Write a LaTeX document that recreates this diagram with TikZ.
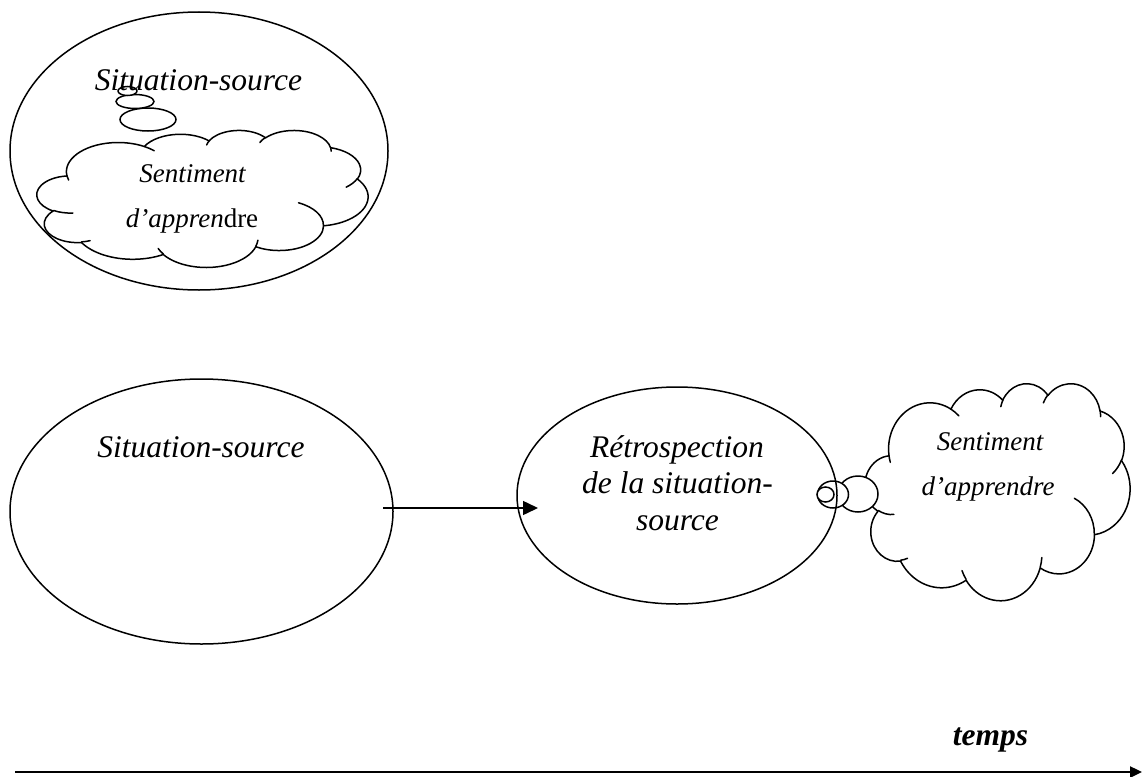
\documentclass[tikz,border=0pt]{standalone}
\usepackage{fontspec}
\setmainfont{Liberation Serif}
\usetikzlibrary{arrows.meta,shapes.geometric}

% Word cloud outline (OOXML preset, path units 0..432), geometric angles
\def\cloudouter{67.53/91.90/-190.487/123.781,
 53.33/72.67/-144.102/89.945,
 43.65/59.45/-145.808/99.723,
 48.57/65.95/-130.986/117.242,
 53.33/72.73/-78.709/109.027,
 67.75/92.20/-46.267/130.269,
 57.85/78.67/0.625/114.033,
 67.52/92.15/22.452/115.173,
 77.20/105.43/66.243/75.711,
 43.60/59.18/-274.942/146.736,
 43.45/59.45/-246.829/152.519}
\def\cloudhooks{46.93/261.77/43.45/59.45/86.742/26.430,
 69.28/348.99/43.60/59.18/73.611/11.447,
 164.78/390.90/67.52/92.15/137.624/14.081,
 288.27/347.51/67.52/92.15/6.453/15.998,
 341.29/229.54/57.85/78.67/-70.292/70.917,
 417.98/153.54/53.33/72.73/30.318/27.752,
 383.24/54.26/48.57/65.95/-13.744/14.859,
 290.78/39.52/48.57/65.95/-149.181/18.195,
 221.41/47.20/43.65/59.45/-163.494/17.686,
 140.00/51.92/67.53/91.90/-66.707/12.319,
 41.27/157.89/67.53/91.90/157.654/11.858}

\tikzset{
  garc/.style n args={4}{
    start angle={atan2((#1)*sin(#3),(#2)*cos(#3))},
    delta angle={mod(atan2((#1)*sin((#3)+(#4)),(#2)*cos((#3)+(#4)))-atan2((#1)*sin(#3),(#2)*cos(#3))+720,360)},
    x radius=#1, y radius=#2}
}

\begin{document}
\begin{tikzpicture}[x=1pt,y=-1pt,
  bigell/.style={draw, ellipse, line width=1.5pt, inner sep=0pt},
  bubble/.style={draw, ellipse, line width=1.5pt, inner sep=0pt, fill=white},
  maintext/.style={font=\fontsize{31.5}{36}\selectfont\itshape, anchor=base, inner sep=0pt},
  cloudtext/.style={font=\fontsize{27}{32}\selectfont\itshape, anchor=base, inner sep=0pt},
  cloudline/.style={line width=1.5pt, line join=round, line cap=round},
  arrowline/.style={line width=1.5pt, -{Triangle[length=15pt,width=14pt]}},
  timeline/.style={line width=2.4pt, -{Triangle[length=12pt,width=11pt]}}
]
\useasboundingbox (0,0) rectangle (1142,776);

% ---------- top: situation-source with feeling ----------
\node[bigell, minimum width=378pt, minimum height=278pt] (E1) at (199,151) {};
\begin{scope}[shift={(37,130)}, x=0.76620pt, y=-0.31713pt]
  \draw[cloudline, fill=white] (39.00,143.70)
    \foreach \cA/\cB/\cC/\cD in \cloudouter { arc[garc={\cA}{\cB}{\cC}{\cD}] } -- cycle;
  \draw[cloudline]
    \foreach \px/\py/\cA/\cB/\cC/\cD in \cloudhooks { (\px,\py) arc[garc={\cA}{\cB}{\cC}{\cD}] };
\end{scope}
\node[bubble, minimum width=56pt, minimum height=23pt] (B1c) at (148,119.5) {};
\node[bubble, minimum width=38pt, minimum height=14pt] (B1b) at (135,101.5) {};
\node[bubble, minimum width=19pt, minimum height=9pt] (B1a) at (127.5,91) {};
\node[maintext] (T1) at (198.5,90) {Situation-source};
\node[cloudtext] (S1a) at (192.5,182) {Sentiment};
\node[cloudtext] (S1b) at (192,227) {d’appren\upshape dre};

% ---------- middle row ----------
\node[bigell, minimum width=383pt, minimum height=265pt] (E2) at (201.5,511.5) {};
\node[maintext] (T2) at (201,457) {Situation-source};

\coordinate (A0) at (383,508);
\coordinate (A1) at (538,508);
\draw[arrowline] (A0) -- (A1);

\begin{scope}[shift={(865,383)}, x=0.61343pt, y=-0.50231pt]
  \draw[cloudline, fill=white] (39.00,143.70)
    \foreach \cA/\cB/\cC/\cD in \cloudouter { arc[garc={\cA}{\cB}{\cC}{\cD}] } -- cycle;
  \draw[cloudline]
    \foreach \px/\py/\cA/\cB/\cC/\cD in \cloudhooks { (\px,\py) arc[garc={\cA}{\cB}{\cC}{\cD}] };
\end{scope}
\node[bubble, minimum width=40pt, minimum height=36pt] (B2c) at (858,494) {};
\node[bubble, minimum width=31pt, minimum height=27pt] (B2b) at (833,494.5) {};
\node[bubble, minimum width=17pt, minimum height=15pt] (B2a) at (825.5,494.5) {};

\node[bigell, minimum width=320pt, minimum height=217pt] (E3) at (677,495.5) {};
\node[maintext] (R1) at (677,457) {Rétrospection};
\node[maintext] (R2) at (677.5,493) {de la situation-};
\node[maintext] (R3) at (677.5,530) {source};

\node[cloudtext] (S2a) at (990,450) {Sentiment};
\node[cloudtext] (S2b) at (988,495) {d’apprendre};

% ---------- time axis ----------
\coordinate (L0) at (15,772);
\coordinate (L1) at (1142,772);
\draw[timeline] (L0) -- (L1);
\node[font=\fontsize{31.5}{36}\selectfont\bfseries\itshape, anchor=base, inner sep=0pt] (TM) at (990.5,745) {temps};
\end{tikzpicture}
\end{document}
